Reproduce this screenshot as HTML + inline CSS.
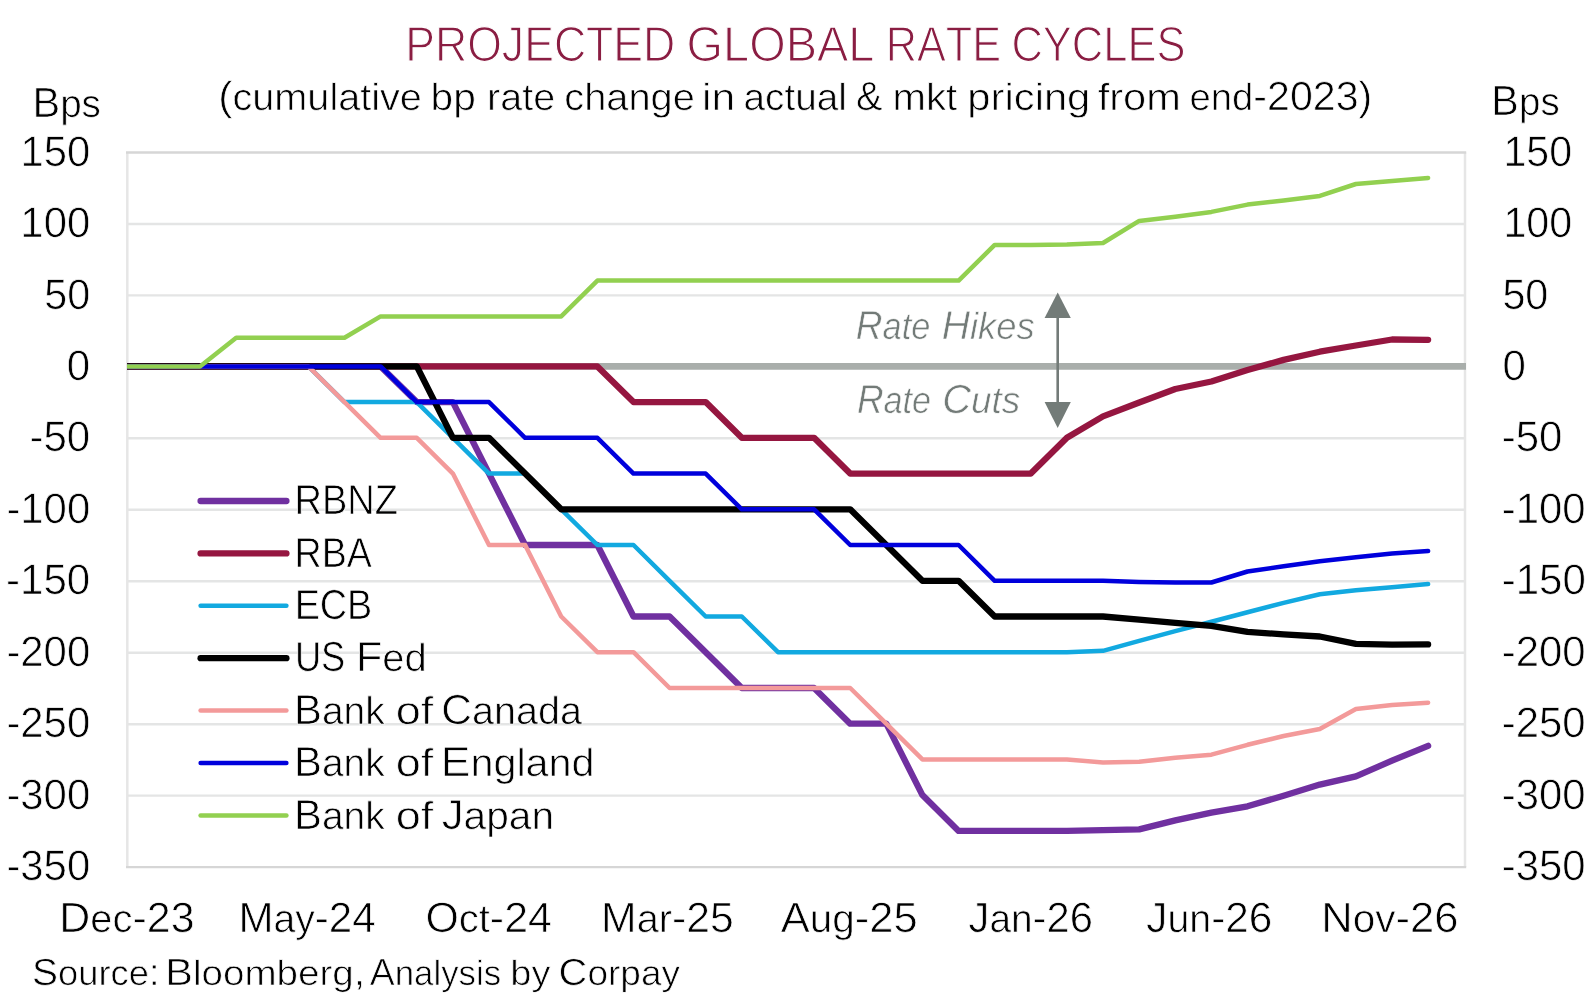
<!DOCTYPE html>
<html><head><meta charset="utf-8"><style>
html,body{margin:0;padding:0;background:#fff;}
body{width:1592px;height:1000px;overflow:hidden;}
svg{display:block;}
text{font-family:"Liberation Sans", sans-serif;will-change:transform;font-kerning:none;text-rendering:geometricPrecision;}
</style></head><body>
<svg width="1592" height="1000" viewBox="0 0 1592 1000">
<rect x="0" y="0" width="1592" height="1000" fill="#ffffff"/>
<line x1="126.8" y1="224.0" x2="1466.0" y2="224.0" stroke="#e4e5e5" stroke-width="2.4"/>
<line x1="126.8" y1="295.4" x2="1466.0" y2="295.4" stroke="#e4e5e5" stroke-width="2.4"/>
<line x1="126.8" y1="366.9" x2="1466.0" y2="366.9" stroke="#e4e5e5" stroke-width="2.4"/>
<line x1="126.8" y1="438.3" x2="1466.0" y2="438.3" stroke="#e4e5e5" stroke-width="2.4"/>
<line x1="126.8" y1="509.8" x2="1466.0" y2="509.8" stroke="#e4e5e5" stroke-width="2.4"/>
<line x1="126.8" y1="581.3" x2="1466.0" y2="581.3" stroke="#e4e5e5" stroke-width="2.4"/>
<line x1="126.8" y1="652.7" x2="1466.0" y2="652.7" stroke="#e4e5e5" stroke-width="2.4"/>
<line x1="126.8" y1="724.2" x2="1466.0" y2="724.2" stroke="#e4e5e5" stroke-width="2.4"/>
<line x1="126.8" y1="795.6" x2="1466.0" y2="795.6" stroke="#e4e5e5" stroke-width="2.4"/>
<line x1="127.3" y1="152.5" x2="127.3" y2="867.1" stroke="#e6e6e6" stroke-width="2.5"/>
<line x1="1465" y1="152.5" x2="1465" y2="867.1" stroke="#e6e6e6" stroke-width="2.5"/>
<line x1="126" y1="152.5" x2="1466.2" y2="152.5" stroke="#d6d6d6" stroke-width="2.4"/>
<line x1="126" y1="867.1" x2="1466.2" y2="867.1" stroke="#d6d6d6" stroke-width="2.4"/>
<line x1="127.3" y1="366.4" x2="1466" y2="366.4" stroke="#a9aeab" stroke-width="6.6"/>
<clipPath id="pc"><rect x="127" y="100" width="1400" height="800"/></clipPath><g clip-path="url(#pc)">
<polyline fill="none" stroke="#7030a0" stroke-width="6.3" stroke-linejoin="round" stroke-linecap="round" points="127.8,366.4 163.9,366.4 200.0,366.4 236.2,366.4 272.3,366.4 308.4,366.4 344.5,366.4 380.6,366.4 416.8,402.1 452.9,402.1 489.0,473.6 525.1,545.0 561.2,545.0 597.4,545.0 633.5,616.5 669.6,616.5 705.7,652.2 741.8,688.0 778.0,688.0 814.1,688.0 850.2,723.7 886.3,723.7 922.4,795.1 958.6,830.9 994.7,830.9 1030.8,830.9 1066.9,830.9 1103.0,830.2 1139.2,829.4 1175.3,820.4 1211.4,812.7 1247.5,806.3 1283.6,795.7 1319.8,784.6 1355.9,776.4 1392.0,760.7 1428.1,745.8"/>
<polyline fill="none" stroke="#951640" stroke-width="6.3" stroke-linejoin="round" stroke-linecap="round" points="127.8,366.4 163.9,366.4 200.0,366.4 236.2,366.4 272.3,366.4 308.4,366.4 344.5,366.4 380.6,366.4 416.8,366.4 452.9,366.4 489.0,366.4 525.1,366.4 561.2,366.4 597.4,366.4 633.5,402.1 669.6,402.1 705.7,402.1 741.8,437.8 778.0,437.8 814.1,437.8 850.2,473.6 886.3,473.6 922.4,473.6 958.6,473.6 994.7,473.6 1030.8,473.6 1066.9,437.8 1103.0,416.4 1139.2,402.5 1175.3,389.0 1211.4,381.5 1247.5,370.0 1283.6,359.9 1319.8,351.7 1355.9,345.5 1392.0,339.5 1428.1,339.8"/>
<polyline fill="none" stroke="#12a9e0" stroke-width="4.5" stroke-linejoin="round" stroke-linecap="round" points="127.8,366.4 163.9,366.4 200.0,366.4 236.2,366.4 272.3,366.4 308.4,366.4 344.5,402.1 380.6,402.1 416.8,402.1 452.9,437.8 489.0,473.6 525.1,473.6 561.2,509.3 597.4,545.0 633.5,545.0 669.6,580.8 705.7,616.5 741.8,616.5 778.0,652.2 814.1,652.2 850.2,652.2 886.3,652.2 922.4,652.2 958.6,652.2 994.7,652.2 1030.8,652.2 1066.9,652.2 1103.0,650.8 1139.2,640.8 1175.3,631.2 1211.4,621.8 1247.5,612.3 1283.6,602.9 1319.8,594.3 1355.9,590.3 1392.0,587.2 1428.1,584.0"/>
<polyline fill="none" stroke="#000000" stroke-width="6.3" stroke-linejoin="round" stroke-linecap="round" points="127.8,366.4 163.9,366.4 200.0,366.4 236.2,366.4 272.3,366.4 308.4,366.4 344.5,366.4 380.6,366.4 416.8,366.4 452.9,437.8 489.0,437.8 525.1,473.6 561.2,509.3 597.4,509.3 633.5,509.3 669.6,509.3 705.7,509.3 741.8,509.3 778.0,509.3 814.1,509.3 850.2,509.3 886.3,545.0 922.4,580.8 958.6,580.8 994.7,616.5 1030.8,616.5 1066.9,616.5 1103.0,616.5 1139.2,619.6 1175.3,622.8 1211.4,625.9 1247.5,631.8 1283.6,634.4 1319.8,636.5 1355.9,643.8 1392.0,644.6 1428.1,644.4"/>
<polyline fill="none" stroke="#f39a9a" stroke-width="4.5" stroke-linejoin="round" stroke-linecap="round" points="127.8,366.4 163.9,366.4 200.0,366.4 236.2,366.4 272.3,366.4 308.4,366.4 344.5,402.1 380.6,437.8 416.8,437.8 452.9,473.6 489.0,545.0 525.1,545.0 561.2,616.5 597.4,652.2 633.5,652.2 669.6,688.0 705.7,688.0 741.8,688.0 778.0,688.0 814.1,688.0 850.2,688.0 886.3,723.7 922.4,759.4 958.6,759.4 994.7,759.4 1030.8,759.4 1066.9,759.4 1103.0,762.4 1139.2,761.8 1175.3,757.8 1211.4,754.7 1247.5,744.8 1283.6,736.0 1319.8,729.0 1355.9,709.0 1392.0,705.1 1428.1,702.7"/>
<polyline fill="none" stroke="#0000dc" stroke-width="4.5" stroke-linejoin="round" stroke-linecap="round" points="127.8,366.4 163.9,366.4 200.0,366.4 236.2,366.4 272.3,366.4 308.4,366.4 344.5,366.4 380.6,366.4 416.8,402.1 452.9,402.1 489.0,402.1 525.1,437.8 561.2,437.8 597.4,437.8 633.5,473.6 669.6,473.6 705.7,473.6 741.8,509.3 778.0,509.3 814.1,509.3 850.2,545.0 886.3,545.0 922.4,545.0 958.6,545.0 994.7,580.8 1030.8,580.8 1066.9,580.8 1103.0,580.8 1139.2,581.9 1175.3,582.5 1211.4,582.5 1247.5,571.5 1283.6,566.2 1319.8,561.2 1355.9,557.3 1392.0,553.6 1428.1,551.0"/>
<polyline fill="none" stroke="#92d050" stroke-width="4.5" stroke-linejoin="round" stroke-linecap="round" points="127.8,366.4 163.9,366.4 200.0,366.4 236.2,337.8 272.3,337.8 308.4,337.8 344.5,337.8 380.6,316.4 416.8,316.4 452.9,316.4 489.0,316.4 525.1,316.4 561.2,316.4 597.4,280.6 633.5,280.6 669.6,280.6 705.7,280.6 741.8,280.6 778.0,280.6 814.1,280.6 850.2,280.6 886.3,280.6 922.4,280.6 958.6,280.6 994.7,244.9 1030.8,244.9 1066.9,244.6 1103.0,243.0 1139.2,220.9 1175.3,216.7 1211.4,211.9 1247.5,204.6 1283.6,200.4 1319.8,195.9 1355.9,184.0 1392.0,180.9 1428.1,177.9"/>
</g>
<line x1="1057.7" y1="312" x2="1057.7" y2="408" stroke="#737b78" stroke-width="2.6"/>
<polygon points="1057.7,292.5 1070.8,318.1 1044.6,318.1" fill="#737b78"/>
<polygon points="1057.7,428 1070.8,402 1044.6,402" fill="#737b78"/>
<line x1="200.6" y1="501.0" x2="286.4" y2="501.0" stroke="#7030a0" stroke-width="6.3" stroke-linecap="round"/>
<line x1="200.6" y1="553.4" x2="286.4" y2="553.4" stroke="#951640" stroke-width="6.3" stroke-linecap="round"/>
<line x1="200.6" y1="605.8" x2="286.4" y2="605.8" stroke="#12a9e0" stroke-width="4.5" stroke-linecap="round"/>
<line x1="200.6" y1="658.2" x2="286.4" y2="658.2" stroke="#000000" stroke-width="6.3" stroke-linecap="round"/>
<line x1="200.6" y1="710.6" x2="286.4" y2="710.6" stroke="#f39a9a" stroke-width="4.5" stroke-linecap="round"/>
<line x1="200.6" y1="763.0" x2="286.4" y2="763.0" stroke="#0000dc" stroke-width="4.5" stroke-linecap="round"/>
<line x1="200.6" y1="815.4" x2="286.4" y2="815.4" stroke="#92d050" stroke-width="4.5" stroke-linecap="round"/>
<text x="405.24" y="61.30" font-size="49.27" fill="#8a1d42" stroke="#fff" stroke-width="1.20" textLength="270.09" lengthAdjust="spacingAndGlyphs" style="">PROJECTED</text>
<text x="686.54" y="61.30" font-size="49.27" fill="#8a1d42" stroke="#fff" stroke-width="1.20" textLength="187.82" lengthAdjust="spacingAndGlyphs" style="">GLOBAL</text>
<text x="885.65" y="61.30" font-size="49.27" fill="#8a1d42" stroke="#fff" stroke-width="1.20" textLength="115.41" lengthAdjust="spacingAndGlyphs" style="">RATE</text>
<text x="1011.39" y="61.30" font-size="49.27" fill="#8a1d42" stroke="#fff" stroke-width="1.20" textLength="174.11" lengthAdjust="spacingAndGlyphs" style="">CYCLES</text>
<text x="218.31" y="109.95" font-size="40.67" fill="#000" stroke="#fff" stroke-width="0.70" textLength="203.60" lengthAdjust="spacingAndGlyphs" style="">(<tspan font-size="37.83">cumulative</tspan></text>
<text x="430.63" y="109.95" font-size="40.67" fill="#000" stroke="#fff" stroke-width="0.70" textLength="45.23" lengthAdjust="spacingAndGlyphs" style=""><tspan font-size="37.83">bp</tspan></text>
<text x="487.13" y="109.95" font-size="40.67" fill="#000" stroke="#fff" stroke-width="0.70" textLength="67.97" lengthAdjust="spacingAndGlyphs" style=""><tspan font-size="37.83">rate</tspan></text>
<text x="564.26" y="109.95" font-size="40.67" fill="#000" stroke="#fff" stroke-width="0.70" textLength="130.56" lengthAdjust="spacingAndGlyphs" style=""><tspan font-size="37.83">change</tspan></text>
<text x="702.10" y="109.95" font-size="40.67" fill="#000" stroke="#fff" stroke-width="0.70" textLength="33.11" lengthAdjust="spacingAndGlyphs" style=""><tspan font-size="37.83">in</tspan></text>
<text x="743.50" y="109.95" font-size="40.67" fill="#000" stroke="#fff" stroke-width="0.70" textLength="103.34" lengthAdjust="spacingAndGlyphs" style=""><tspan font-size="37.83">actual</tspan></text>
<text x="856.05" y="109.95" font-size="40.67" fill="#000" stroke="#fff" stroke-width="0.70" textLength="26.52" lengthAdjust="spacingAndGlyphs" style="">&amp;</text>
<text x="892.58" y="109.95" font-size="40.67" fill="#000" stroke="#fff" stroke-width="0.70" textLength="64.66" lengthAdjust="spacingAndGlyphs" style=""><tspan font-size="37.83">mkt</tspan></text>
<text x="967.36" y="109.95" font-size="40.67" fill="#000" stroke="#fff" stroke-width="0.70" textLength="122.98" lengthAdjust="spacingAndGlyphs" style=""><tspan font-size="37.83">pricing</tspan></text>
<text x="1097.66" y="109.95" font-size="40.67" fill="#000" stroke="#fff" stroke-width="0.70" textLength="83.13" lengthAdjust="spacingAndGlyphs" style=""><tspan font-size="37.83">from</tspan></text>
<text x="1189.52" y="109.95" font-size="40.67" fill="#000" stroke="#fff" stroke-width="0.70" textLength="182.78" lengthAdjust="spacingAndGlyphs" style=""><tspan font-size="37.83">end</tspan>-2023)</text>
<text x="32.44" y="117.45" font-size="42.15" fill="#000" stroke="#fff" stroke-width="0.70" textLength="68.50" lengthAdjust="spacingAndGlyphs" style="">B<tspan font-size="39.20">ps</tspan></text>
<text x="1491.35" y="115.35" font-size="42.15" fill="#000" stroke="#fff" stroke-width="0.70" textLength="68.29" lengthAdjust="spacingAndGlyphs" style="">B<tspan font-size="39.20">ps</tspan></text>
<text x="20.47" y="165.60" font-size="42.51" fill="#000" stroke="#fff" stroke-width="0.70" textLength="69.71" lengthAdjust="spacingAndGlyphs" style="">150</text>
<text x="1503.42" y="165.60" font-size="42.51" fill="#000" stroke="#fff" stroke-width="0.70" textLength="68.64" lengthAdjust="spacingAndGlyphs" style="">150</text>
<text x="20.36" y="237.06" font-size="42.51" fill="#000" stroke="#fff" stroke-width="0.70" textLength="69.82" lengthAdjust="spacingAndGlyphs" style="">100</text>
<text x="1503.41" y="237.06" font-size="42.51" fill="#000" stroke="#fff" stroke-width="0.70" textLength="68.75" lengthAdjust="spacingAndGlyphs" style="">100</text>
<text x="44.20" y="308.52" font-size="42.51" fill="#000" stroke="#fff" stroke-width="0.70" textLength="45.97" lengthAdjust="spacingAndGlyphs" style="">50</text>
<text x="1502.40" y="308.52" font-size="42.51" fill="#000" stroke="#fff" stroke-width="0.70" textLength="45.97" lengthAdjust="spacingAndGlyphs" style="">50</text>
<text x="66.81" y="379.98" font-size="42.51" fill="#000" stroke="#fff" stroke-width="0.70" textLength="23.38" lengthAdjust="spacingAndGlyphs" style="">0</text>
<text x="1502.41" y="379.98" font-size="42.51" fill="#000" stroke="#fff" stroke-width="0.70" textLength="23.38" lengthAdjust="spacingAndGlyphs" style="">0</text>
<text x="29.48" y="451.44" font-size="42.51" fill="#000" stroke="#fff" stroke-width="0.70" textLength="60.71" lengthAdjust="spacingAndGlyphs" style="">-50</text>
<text x="1501.68" y="451.44" font-size="42.51" fill="#000" stroke="#fff" stroke-width="0.70" textLength="60.71" lengthAdjust="spacingAndGlyphs" style="">-50</text>
<text x="6.39" y="522.90" font-size="42.51" fill="#000" stroke="#fff" stroke-width="0.70" textLength="83.80" lengthAdjust="spacingAndGlyphs" style="">-100</text>
<text x="1501.69" y="522.90" font-size="42.51" fill="#000" stroke="#fff" stroke-width="0.70" textLength="83.80" lengthAdjust="spacingAndGlyphs" style="">-100</text>
<text x="6.08" y="594.36" font-size="42.51" fill="#000" stroke="#fff" stroke-width="0.70" textLength="84.11" lengthAdjust="spacingAndGlyphs" style="">-150</text>
<text x="1501.68" y="594.36" font-size="42.51" fill="#000" stroke="#fff" stroke-width="0.70" textLength="84.11" lengthAdjust="spacingAndGlyphs" style="">-150</text>
<text x="6.39" y="665.82" font-size="42.51" fill="#000" stroke="#fff" stroke-width="0.70" textLength="83.80" lengthAdjust="spacingAndGlyphs" style="">-200</text>
<text x="1501.69" y="665.82" font-size="42.51" fill="#000" stroke="#fff" stroke-width="0.70" textLength="83.80" lengthAdjust="spacingAndGlyphs" style="">-200</text>
<text x="6.39" y="737.28" font-size="42.51" fill="#000" stroke="#fff" stroke-width="0.70" textLength="83.80" lengthAdjust="spacingAndGlyphs" style="">-250</text>
<text x="1501.69" y="737.28" font-size="42.51" fill="#000" stroke="#fff" stroke-width="0.70" textLength="83.80" lengthAdjust="spacingAndGlyphs" style="">-250</text>
<text x="6.39" y="808.74" font-size="42.51" fill="#000" stroke="#fff" stroke-width="0.70" textLength="83.80" lengthAdjust="spacingAndGlyphs" style="">-300</text>
<text x="1501.69" y="808.74" font-size="42.51" fill="#000" stroke="#fff" stroke-width="0.70" textLength="83.80" lengthAdjust="spacingAndGlyphs" style="">-300</text>
<text x="6.39" y="880.20" font-size="42.51" fill="#000" stroke="#fff" stroke-width="0.70" textLength="83.80" lengthAdjust="spacingAndGlyphs" style="">-350</text>
<text x="1501.69" y="880.20" font-size="42.51" fill="#000" stroke="#fff" stroke-width="0.70" textLength="83.80" lengthAdjust="spacingAndGlyphs" style="">-350</text>
<text x="59.33" y="932.25" font-size="42.30" fill="#000" stroke="#fff" stroke-width="0.70" textLength="135.21" lengthAdjust="spacingAndGlyphs" style="">D<tspan font-size="39.34">ec</tspan>-23</text>
<text x="238.40" y="932.25" font-size="42.30" fill="#000" stroke="#fff" stroke-width="0.70" textLength="137.29" lengthAdjust="spacingAndGlyphs" style="">M<tspan font-size="39.34">ay</tspan>-24</text>
<text x="425.42" y="932.25" font-size="42.30" fill="#000" stroke="#fff" stroke-width="0.70" textLength="126.49" lengthAdjust="spacingAndGlyphs" style="">O<tspan font-size="39.34">ct</tspan>-24</text>
<text x="601.14" y="932.25" font-size="42.30" fill="#000" stroke="#fff" stroke-width="0.70" textLength="132.70" lengthAdjust="spacingAndGlyphs" style="">M<tspan font-size="39.34">ar</tspan>-25</text>
<text x="780.77" y="932.25" font-size="42.30" fill="#000" stroke="#fff" stroke-width="0.70" textLength="136.91" lengthAdjust="spacingAndGlyphs" style="">A<tspan font-size="39.34">ug</tspan>-25</text>
<text x="968.60" y="932.25" font-size="42.30" fill="#000" stroke="#fff" stroke-width="0.70" textLength="124.28" lengthAdjust="spacingAndGlyphs" style="">J<tspan font-size="39.34">an</tspan>-26</text>
<text x="1146.19" y="932.25" font-size="42.30" fill="#000" stroke="#fff" stroke-width="0.70" textLength="126.22" lengthAdjust="spacingAndGlyphs" style="">J<tspan font-size="39.34">un</tspan>-26</text>
<text x="1321.38" y="932.25" font-size="42.30" fill="#000" stroke="#fff" stroke-width="0.70" textLength="137.19" lengthAdjust="spacingAndGlyphs" style="">N<tspan font-size="39.34">ov</tspan>-26</text>
<text x="294.53" y="514.15" font-size="41.86" fill="#000" stroke="#fff" stroke-width="0.70" textLength="103.51" lengthAdjust="spacingAndGlyphs" style="">RBNZ</text>
<text x="294.56" y="566.65" font-size="41.86" fill="#000" stroke="#fff" stroke-width="0.70" textLength="77.36" lengthAdjust="spacingAndGlyphs" style="">RBA</text>
<text x="294.65" y="618.95" font-size="41.86" fill="#000" stroke="#fff" stroke-width="0.70" textLength="77.69" lengthAdjust="spacingAndGlyphs" style="">ECB</text>
<text x="294.95" y="671.35" font-size="41.86" fill="#000" stroke="#fff" stroke-width="0.70" textLength="50.36" lengthAdjust="spacingAndGlyphs" style="">US</text>
<text x="356.02" y="671.35" font-size="41.86" fill="#000" stroke="#fff" stroke-width="0.70" textLength="70.81" lengthAdjust="spacingAndGlyphs" style="">F<tspan font-size="38.93">ed</tspan></text>
<text x="294.01" y="723.65" font-size="41.86" fill="#000" stroke="#fff" stroke-width="0.70" textLength="90.78" lengthAdjust="spacingAndGlyphs" style="">B<tspan font-size="38.93">ank</tspan></text>
<text x="395.76" y="723.65" font-size="41.86" fill="#000" stroke="#fff" stroke-width="0.70" textLength="37.52" lengthAdjust="spacingAndGlyphs" style=""><tspan font-size="38.93">of</tspan></text>
<text x="441.39" y="723.65" font-size="41.86" fill="#000" stroke="#fff" stroke-width="0.70" textLength="140.46" lengthAdjust="spacingAndGlyphs" style="">C<tspan font-size="38.93">anada</tspan></text>
<text x="294.01" y="776.15" font-size="41.86" fill="#000" stroke="#fff" stroke-width="0.70" textLength="90.78" lengthAdjust="spacingAndGlyphs" style="">B<tspan font-size="38.93">ank</tspan></text>
<text x="395.76" y="776.15" font-size="41.86" fill="#000" stroke="#fff" stroke-width="0.70" textLength="37.52" lengthAdjust="spacingAndGlyphs" style=""><tspan font-size="38.93">of</tspan></text>
<text x="440.80" y="776.15" font-size="41.86" fill="#000" stroke="#fff" stroke-width="0.70" textLength="153.81" lengthAdjust="spacingAndGlyphs" style="">E<tspan font-size="38.93">ngland</tspan></text>
<text x="294.01" y="828.55" font-size="41.86" fill="#000" stroke="#fff" stroke-width="0.70" textLength="90.78" lengthAdjust="spacingAndGlyphs" style="">B<tspan font-size="38.93">ank</tspan></text>
<text x="395.76" y="828.55" font-size="41.86" fill="#000" stroke="#fff" stroke-width="0.70" textLength="37.52" lengthAdjust="spacingAndGlyphs" style=""><tspan font-size="38.93">of</tspan></text>
<text x="441.77" y="828.55" font-size="41.86" fill="#000" stroke="#fff" stroke-width="0.70" textLength="112.22" lengthAdjust="spacingAndGlyphs" style="">J<tspan font-size="38.93">apan</tspan></text>
<text x="32.08" y="984.75" font-size="37.79" fill="#000" stroke="#fff" stroke-width="0.70" textLength="127.63" lengthAdjust="spacingAndGlyphs" style="">S<tspan font-size="35.15">ource</tspan>:</text>
<text x="165.25" y="984.75" font-size="37.79" fill="#000" stroke="#fff" stroke-width="0.70" textLength="200.13" lengthAdjust="spacingAndGlyphs" style="">B<tspan font-size="35.15">loomberg</tspan>,</text>
<text x="369.78" y="984.75" font-size="37.79" fill="#000" stroke="#fff" stroke-width="0.70" textLength="131.33" lengthAdjust="spacingAndGlyphs" style="">A<tspan font-size="35.15">nalysis</tspan></text>
<text x="510.30" y="984.75" font-size="37.79" fill="#000" stroke="#fff" stroke-width="0.70" textLength="40.12" lengthAdjust="spacingAndGlyphs" style=""><tspan font-size="35.15">by</tspan></text>
<text x="558.63" y="984.75" font-size="37.79" fill="#000" stroke="#fff" stroke-width="0.70" textLength="121.50" lengthAdjust="spacingAndGlyphs" style="">C<tspan font-size="35.15">orpay</tspan></text>
<text x="855.86" y="338.70" font-size="40.41" fill="#737b78" stroke="#fff" stroke-width="0.60" textLength="74.51" lengthAdjust="spacingAndGlyphs" style="font-style:italic;">R<tspan font-size="37.58">ate</tspan></text>
<text x="941.70" y="338.70" font-size="40.41" fill="#737b78" stroke="#fff" stroke-width="0.60" textLength="93.05" lengthAdjust="spacingAndGlyphs" style="font-style:italic;">H<tspan font-size="37.58">ikes</tspan></text>
<text x="856.97" y="413.10" font-size="40.41" fill="#737b78" stroke="#fff" stroke-width="0.60" textLength="74.20" lengthAdjust="spacingAndGlyphs" style="font-style:italic;">R<tspan font-size="37.58">ate</tspan></text>
<text x="942.31" y="413.10" font-size="40.41" fill="#737b78" stroke="#fff" stroke-width="0.60" textLength="78.05" lengthAdjust="spacingAndGlyphs" style="font-style:italic;">C<tspan font-size="37.58">uts</tspan></text>
</svg>
</body></html>
